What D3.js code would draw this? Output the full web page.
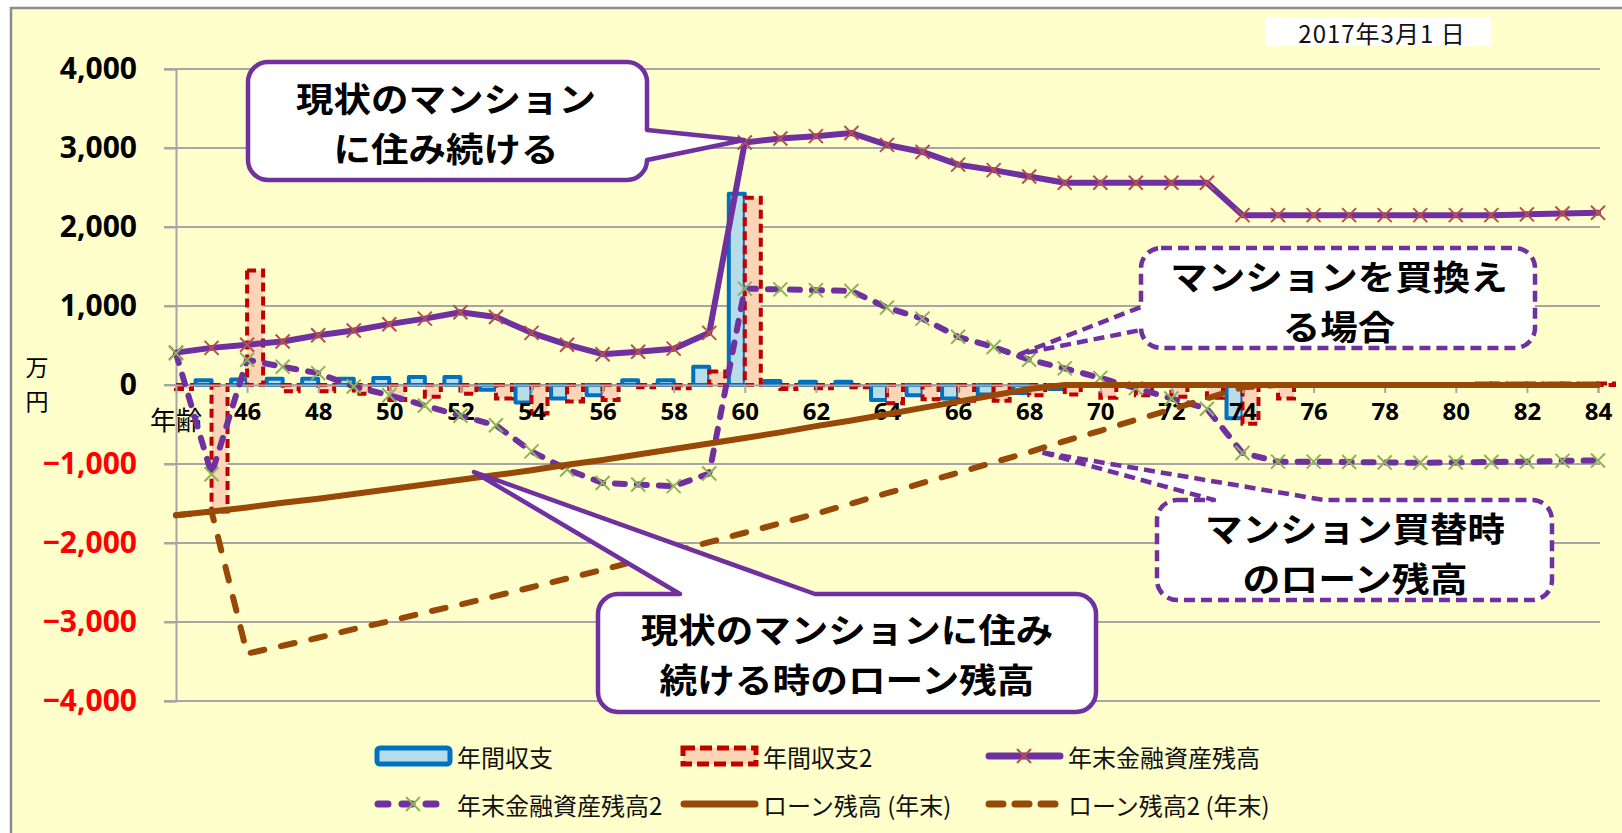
<!DOCTYPE html>
<html lang="ja">
<head>
<meta charset="utf-8">
<script src="https://cdn.jsdelivr.net/npm/d3@7"></script>
<style>
  body { margin: 0; background: #fff; }
  text { font-family: "Noto Sans CJK JP", "Noto Sans", sans-serif; }
  .num { font-family: "Open Sans", "Noto Sans", sans-serif; font-weight: bold; }
</style>
</head>
<body>
<script>
// ages 44..84
var ages = d3.range(44, 85);

// 年間収支 (blue bars)
var cash1 = [0, 60, 70, 80, 80, 80, 90, 100, 100, -60,
  -220, -170, -130, 60, 60, 230, 2420, 50, 40, 40,
  -190, -130, -170, -120, -100, -50, -10, 0, 0, 0,
  -420, 0, 0, 0, 0, 0, 0, 20, 20, 20, 20];
// 年間収支2 (red dashed bars)
var cash2 = [-50, -1600, 1450, -80, -80, -110, -190, -150, -110, -170,
  -360, -210, -190, -30, -40, 170, 2370, -50, -40, -30,
  -230, -180, -200, -200, -130, -120, -160, -130, -150, -160,
  -490, -170, 0, 0, 0, 0, 0, 20, 20, 20, 20];
// 年末金融資産残高
var asset1 = [410, 470, 510, 550, 630, 690, 770, 840, 920, 860,
  660, 510, 390, 420, 460, 660, 3070, 3120, 3150, 3190,
  3040, 2950, 2790, 2720, 2640, 2560, 2560, 2560, 2560, 2560,
  2150, 2150, 2150, 2150, 2150, 2150, 2150, 2150, 2160, 2170, 2180];
// 年末金融資産残高2
var asset2 = [400, -1130, 320, 230, 150, -20, -130, -260, -390, -510,
  -840, -1070, -1240, -1260, -1280, -1120, 1220, 1210, 1200, 1190,
  980, 840, 610, 480, 320, 210, 90, -40, -170, -300,
  -860, -970, -970, -975, -980, -985, -980, -975, -970, -960, -955];
// ローン残高 (年末)
var loan1 = [-1650, -1600, -1550, -1490, -1440, -1380, -1320, -1260, -1200, -1140,
  -1080, -1010, -950, -880, -810, -740, -670, -600, -520, -450,
  -370, -290, -210, -130, -50, 0, 0, 0, 0, 0,
  0, 0, 0, 0, 0, 0, 0, 0, 0, 0, 0];
// ローン残高2 (年末)
var loan2 = [-1650, -1600, -3400, -3300, -3200, -3090, -2990, -2880, -2780, -2670,
  -2560, -2450, -2340, -2220, -2110, -1990, -1870, -1750, -1630, -1500,
  -1370, -1240, -1110, -980, -850, -710, -580, -440, -310, -170,
  -30, 0, 0, 0, 0, 0, 0, 0, 0, 0, 0];

var yTicks = d3.range(-4000, 4001, 1000);
var xTicks = d3.range(46, 85, 2);

var W = 1622, H = 833;
var purple = "#7030A0", brown = "#984807";

var svg = d3.select("body").append("svg")
  .attr("width", W).attr("height", H);

// chart background + border
svg.append("rect").attr("x", 11).attr("y", 8)
  .attr("width", W).attr("height", H)
  .attr("fill", "#FFFFCC").attr("stroke", "#8c8c8c").attr("stroke-width", 2.5);

var x = d3.scaleLinear().domain([44, 84]).range([176, 1598]);
var y = d3.scaleLinear().domain([-4000, 4000]).range([701, 69]);

// gridlines
svg.append("g").selectAll("line").data(yTicks).enter().append("line")
  .attr("x1", 164).attr("x2", 1600)
  .attr("y1", function(d) { return y(d); }).attr("y2", function(d) { return y(d); })
  .attr("stroke", "#a6a6a6").attr("stroke-width", 2);

// y axis
var yAxis = svg.append("g").attr("transform", "translate(176,0)")
  .call(d3.axisLeft(y).tickValues(yTicks).tickSize(12).tickPadding(27)
    .tickFormat(d3.format(",")));
yAxis.select(".domain").attr("stroke", "#a6a6a6").attr("stroke-width", 2);
yAxis.selectAll(".tick line").attr("stroke", "#a6a6a6").attr("stroke-width", 2);
yAxis.selectAll(".tick text").attr("class", "num").attr("font-size", 30)
  .attr("fill", function(d) { return d < 0 ? "#FF0000" : "#000"; });

// 万円
svg.append("text").attr("x", 37).attr("y", 376).attr("text-anchor", "middle")
  .attr("font-size", 23).text("万");
svg.append("text").attr("x", 37).attr("y", 410).attr("text-anchor", "middle")
  .attr("font-size", 23).text("円");

// bars
var bw = 16;
svg.append("g").selectAll("rect").data(ages).enter().append("rect")
  .attr("x", function(d) { return x(d) - bw; })
  .attr("y", function(d, i) { return y(Math.max(0, cash1[i])); })
  .attr("width", bw)
  .attr("height", function(d, i) { return Math.abs(y(cash1[i]) - y(0)); })
  .attr("fill", "#B7DEE8").attr("stroke", "#0070C0").attr("stroke-width", 4)
  .attr("stroke-linejoin", "round")
  .style("display", function(d, i) { return cash1[i] === 0 ? "none" : null; });

svg.append("g").selectAll("rect").data(ages).enter().append("rect")
  .attr("x", function(d) { return x(d); })
  .attr("y", function(d, i) { return y(Math.max(0, cash2[i])); })
  .attr("width", bw)
  .attr("height", function(d, i) { return Math.abs(y(cash2[i]) - y(0)); })
  .attr("fill", "#FBD5B5").attr("stroke", "#C00000").attr("stroke-width", 4)
  .attr("stroke-dasharray", "9,5")
  .style("display", function(d, i) { return cash2[i] === 0 ? "none" : null; });

// x axis at zero
var xAxis = svg.append("g").attr("transform", "translate(0," + y(0) + ")")
  .call(d3.axisBottom(x).tickValues(xTicks).tickSize(8).tickPadding(10)
    .tickFormat(d3.format("d")));
xAxis.select(".domain").attr("stroke", "#a6a6a6").attr("stroke-width", 2);
xAxis.selectAll(".tick line").attr("stroke", "#a6a6a6").attr("stroke-width", 2);
xAxis.selectAll(".tick text").attr("class", "num").attr("font-size", 24).attr("fill", "#000");
svg.append("text").attr("x", 176).attr("y", 430).attr("text-anchor", "middle")
  .attr("font-size", 26).text("年齢");

// lines
function drawLine(vals, color, dash) {
  var line = d3.line()
    .x(function(d) { return x(d); })
    .y(function(d, i) { return y(vals[i]); });
  svg.append("path").datum(ages).attr("d", line)
    .attr("fill", "none").attr("stroke", color).attr("stroke-width", 6)
    .attr("stroke-linejoin", "round").attr("stroke-linecap", "round")
    .attr("stroke-dasharray", dash);
}
function drawMarks(vals, color) {
  var s = 7;
  svg.append("g").selectAll("path").data(ages).enter().append("path")
    .attr("d", function(d, i) {
      var cx = x(d), cy = y(vals[i]);
      return "M" + (cx - s) + "," + (cy - s) + "L" + (cx + s) + "," + (cy + s) +
        "M" + (cx - s) + "," + (cy + s) + "L" + (cx + s) + "," + (cy - s);
    })
    .attr("stroke", color).attr("stroke-width", 2).attr("fill", "none");
}

drawLine(asset1, purple, null);
drawMarks(asset1, "#B5504A");
drawLine(asset2, purple, "10,12");
drawMarks(asset2, "#8DB35A");
drawLine(loan1, brown, null);
drawLine(loan2, brown, "14,17");

// callouts: rounded box with a wedge pointer on one side
function callout(b, side, a1, a2, tip, dashed) {
  var r = 20, x0 = b[0], y0 = b[1], x1 = b[2], y1 = b[3];
  var p = d3.path();
  p.moveTo(x0 + r, y0);
  if (side === "top") { p.lineTo(a1, y0); p.lineTo(tip[0], tip[1]); p.lineTo(a2, y0); }
  p.lineTo(x1 - r, y0);
  p.arcTo(x1, y0, x1, y0 + r, r);
  if (side === "right") { p.lineTo(x1, a1); p.lineTo(tip[0], tip[1]); p.lineTo(x1, a2); }
  p.lineTo(x1, y1 - r);
  p.arcTo(x1, y1, x1 - r, y1, r);
  p.lineTo(x0 + r, y1);
  p.arcTo(x0, y1, x0, y1 - r, r);
  if (side === "left") { p.lineTo(x0, a2); p.lineTo(tip[0], tip[1]); p.lineTo(x0, a1); }
  p.lineTo(x0, y0 + r);
  p.arcTo(x0, y0, x0 + r, y0, r);
  p.closePath();
  svg.append("path").attr("d", p.toString())
    .attr("fill", "#fff").attr("stroke", purple).attr("stroke-width", 4.5)
    .attr("stroke-linejoin", "round")
    .attr("stroke-dasharray", dashed ? "11,6" : null);
}
// two-line label; glyphs stretched a little sideways to the reference width
function label(lines, cx, cy) {
  lines.forEach(function(s, i) {
    svg.append("text").attr("x", cx).attr("y", cy + i * 50)
      .attr("text-anchor", "middle").attr("dominant-baseline", "central")
      .attr("font-size", 34).attr("font-weight", "bold").attr("fill", "#000")
      .attr("textLength", s.length * 37.5).attr("lengthAdjust", "spacingAndGlyphs")
      .text(s);
  });
}

callout([248, 62, 647, 180], "right", 130, 160, [744, 140], false);
label(["現状のマンション", "に住み続ける"], 446, 97);

callout([1141, 248, 1535, 348], "left", 307, 330, [1020, 354], true);
label(["マンションを買換え", "る場合"], 1339, 275);

callout([1157, 500, 1552, 600], "top", 1214, 1324, [1040, 452], true);
label(["マンション買替時", "のローン残高"], 1355, 527);

callout([598, 594, 1096, 712], "top", 680, 815, [474, 472], false);
label(["現状のマンションに住み", "続ける時のローン残高"], 847, 628);

// date box
svg.append("rect").attr("x", 1266).attr("y", 17).attr("width", 225).attr("height", 29)
  .attr("fill", "#fff");
svg.append("text").attr("x", 1382).attr("y", 32).attr("text-anchor", "middle")
  .attr("dominant-baseline", "central").attr("font-size", 24).attr("fill", "#111")
  .attr("letter-spacing", 1)
  .text("2017年3月1 日");

// legend
var legNames = ["年間収支", "年間収支2", "年末金融資産残高",
  "年末金融資産残高2", "ローン残高 (年末)", "ローン残高2 (年末)"];
var legX = [375, 681, 986];
var legY = [756, 804];
legNames.forEach(function(name, i) {
  var lx = legX[i % 3], ly = legY[Math.floor(i / 3)];
  var g = svg.append("g");
  if (i === 0) {
    g.append("rect").attr("x", lx + 2).attr("y", ly - 8).attr("width", 73).attr("height", 16)
      .attr("rx", 3).attr("fill", "#B7DEE8").attr("stroke", "#0070C0").attr("stroke-width", 5);
  } else if (i === 1) {
    g.append("rect").attr("x", lx + 2).attr("y", ly - 8).attr("width", 73).attr("height", 16)
      .attr("fill", "#FBD5B5").attr("stroke", "#C00000").attr("stroke-width", 5)
      .attr("stroke-dasharray", "12,5");
  } else {
    var col = (i === 2 || i === 3) ? purple : brown;
    var dash = i === 3 ? "10,14" : (i === 5 ? "14,12" : null);
    g.append("line").attr("x1", lx + 3).attr("x2", lx + 74).attr("y1", ly).attr("y2", ly)
      .attr("stroke", col).attr("stroke-width", 7).attr("stroke-linecap", "round")
      .attr("stroke-dasharray", dash);
    if (i === 2 || i === 3) {
      var mc = i === 2 ? "#B5504A" : "#8DB35A", cx = lx + 38, s = 7;
      g.append("path").attr("d", "M" + (cx - s) + "," + (ly - s) + "L" + (cx + s) + "," + (ly + s) +
        "M" + (cx - s) + "," + (ly + s) + "L" + (cx + s) + "," + (ly - s))
        .attr("stroke", mc).attr("stroke-width", 2);
    }
  }
  g.append("text").attr("x", lx + 82).attr("y", ly).attr("dominant-baseline", "central")
    .attr("font-size", 24).attr("fill", "#111").text(name);
});
</script>
</body>
</html>
